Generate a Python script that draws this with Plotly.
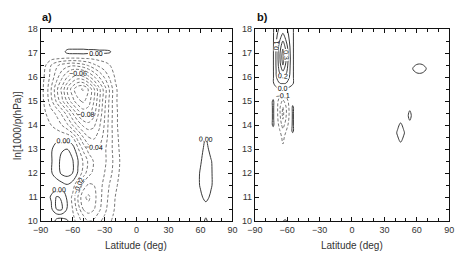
import numpy as np
import plotly.graph_objects as go

# ---------------- Panel a (values in units of 0.001) ----------------
UNIT_A = 0.001
a_main_lat = [-90, -85, -80, -75, -70, -65, -60, -55, -50, -45, -40, -35, -30, -25, -20, -15, -10]
a_main_lev = [10.0, 10.25, 10.5, 11.0, 11.5, 12.0, 12.5, 13.0, 13.5, 14.0, 14.5, 15.0, 15.5, 16.0, 16.5, 16.8, 17.05, 17.3]
a_main_val = [
    [-5, -5, -4, 2, 3, 1, -6, -14, -24, -30, -28, -22, -16, -11, -7, -5, -5],
    [-5, -5, -4, -3, -3, -3, -8, -18, -30, -37, -34, -27, -20, -13, -8, -5, -5],
    [-5, -5, -2, 10, 11, -1, -10, -24, -40, -46, -41, -32, -23, -15, -9, -6, -5],
    [-5, -4, 1, 11, 9, -2, -12, -30, -48, -52, -44, -34, -25, -17, -10, -6, -5],
    [-5, -5, -4, -6, -4, -1, -5, -18, -34, -42, -40, -34, -27, -19, -12, -7, -5],
    [-5, -4, -1, 5, 12, 14, 10, -1, -14, -26, -33, -34, -30, -23, -15, -8, -5],
    [-5, -4, -1, 6, 13, 15, 11, 1, -11, -22, -31, -35, -32, -25, -16, -9, -5],
    [-5, -4, -1, 4, 9, 10, 6, -8, -22, -34, -40, -38, -32, -24, -15, -8, -5],
    [-5, -5, -4, -3, -3, -4, -10, -25, -40, -50, -52, -46, -36, -25, -14, -7, -5],
    [-5, -7, -10, -14, -20, -28, -40, -52, -62, -66, -62, -52, -39, -25, -13, -6, -5],
    [-5, -10, -16, -22, -32, -45, -60, -74, -84, -84, -74, -58, -41, -26, -13, -6, -5],
    [-6, -13, -27, -42, -57, -72, -86, -97, -102, -95, -80, -62, -43, -27, -12, -6, -5],
    [-6, -14, -30, -47, -63, -80, -96, -108, -111, -99, -82, -63, -45, -28, -12, -6, -5],
    [-6, -12, -24, -36, -48, -60, -70, -75, -72, -63, -52, -40, -29, -18, -9, -5, -5],
    [-5, -10, -20, -28, -33, -36, -38, -36, -33, -28, -22, -17, -13, -10, -6, -5, -5],
    [-5, -5, -6, -7, -8, -9, -9, -9, -8, -8, -7, -6, -6, -6, -5, -5, -5],
    [-5, -5, -5, -5, -5, 3, 4, 4, 4, 3, 3, 2, 2, 1, -5, -5, -5],
    [-5, -5, -5, -5, -5, -5, -5, -5, -5, -5, -5, -5, -5, -5, -5, -5, -5],
]
a_east_lat = [55, 60, 65, 70, 75]
a_east_lev = [10.0, 10.5, 11.0, 11.5, 12.0, 12.5, 13.0, 13.5, 14.0]
a_east_val = [
    [-5, -5, 2, -5, -5],
    [-5, -5, -5, -5, -5],
    [-5, -2, 3, -2, -5],
    [-5, 1, 6, 1, -5],
    [-5, 1, 6, 1, -5],
    [-5, -1, 5, 0.5, -5],
    [-5, -3, 3, -3, -5],
    [-5, -5, 0.5, -5, -5],
    [-5, -5, -5, -5, -5],
]

# ---------------- Panel b (values in units of 0.01) ----------------
UNIT_B = 0.01
b_west_lat = [-76, -73, -70, -67, -64, -61, -58, -55, -52]
b_west_lev = [13.0, 13.25, 13.5, 13.75, 14.0, 14.25, 14.5, 14.75, 15.0, 15.25, 15.5,
              15.75, 16.0, 16.25, 16.5, 16.75, 17.0, 17.25, 17.5, 17.75, 18.0]
b_west_val = [
    [-3, -3, -3, -3, -4, -3, -3, -3, -3],
    [-3, -3, -3, -3, -11, -3, -3, -3, -3],
    [-3, -3, -3, -5, -13, -6, -3, -3, -3],
    [-3, -3, -3, -9, -17, -10, -4, 1, -3],
    [-3, 1, -4, -13, -24, -15, -6, 1, -3],
    [-3, 1, -5, -16, -30, -19, -8, 1, -3],
    [-3, 1, -5, -18, -33, -21, -9, 1, -3],
    [-3, 1, -5, -18, -30, -20, -8, 1, -3],
    [-3, 1, -5, -15, -22, -16, -6, -3, -3],
    [-3, -3, -4, -8, -12, -8, -4, -3, -3],
    [-3, -3, -3, -2, -1, -2, -3, -3, -3],
    [-3, -1, 6, 10, 11, 10, 6, 1, -3],
    [-3, -1, 10, 16, 20, 17, 10, 1, -3],
    [-3, -1, 11, 22, 30, 23, 12, 1, -3],
    [-3, -1, 12, 26, 40, 27, 13, 1, -3],
    [-3, -1, 12, 28, 45, 30, 14, 1, -3],
    [-3, -1, 12, 28, 44, 30, 13, 1, -3],
    [-3, -1, 11, 25, 38, 26, 12, 1, -3],
    [-3, -1, 10, 20, 30, 20, 10, 1, -3],
    [-3, -1, 8, 16, 22, 16, 8, 1, -3],
    [-3, -1, 6, 12, 15, 12, 6, 1, -3],
]
b_foot_lat = [-68, -62, -56]
b_foot_lev = [10.0, 10.3]
b_foot_val = [[-3, 1, -3], [-3, -3, -3]]

b_e1_lat = [50, 55, 60, 65, 70, 75]
b_e1_lev = [15.75, 16.0, 16.35, 16.7, 17.0]
b_e1_val = [
    [-3, -3, -3, -3, -3, -3],
    [-3, -3, -3, -3, -3, -3],
    [-3, -1, 3, 3, -1, -3],
    [-3, -3, -3, -3, -3, -3],
    [-3, -3, -3, -3, -3, -3],
]
b_e2_lat = [50, 53.5, 57]
b_e2_lev = [13.9, 14.4, 14.9]
b_e2_val = [[-3, -3, -3], [-3, 2, -3], [-3, -3, -3]]

b_e3_lat = [38, 42, 45, 48, 52]
b_e3_lev = [13.0, 13.68, 14.4]
b_e3_val = [[-3, -3, -3, -3, -3], [-3, 0.5, 4, 0.5, -3], [-3, -3, -3, -3, -3]]

lat_ticks = [-90, -60, -30, 0, 30, 60, 90]
lev_ticks = [10, 11, 12, 13, 14, 15, 16, 17, 18]

# contour level sets: (start, end, step, labelled?)
levels_a_neg = [(-0.12, -0.02, 0.02, True), (-0.11, -0.01, 0.02, False)]
levels_a_pos = [(0.0, 0.02, 0.02, True), (0.01, 0.03, 0.02, False)]
levels_b_neg = [(-0.5, -0.1, 0.1, True)]
levels_b_pos = [(0.0, 0.6, 0.1, True)]

FONT = "Liberation Sans, Arial, sans-serif"
SOLID = "#3a3a3a"
DASHED = "#777777"
LABEL = "#000000"

fig = go.Figure()


def add_levels(lat, lev, z, xa, ya, sets, col, dash, fmt):
    for s, e, st, lab in sets:
        fig.add_trace(go.Contour(
            x=lat, y=lev, z=z, xaxis=xa, yaxis=ya, autocontour=False,
            contours=dict(start=s, end=e, size=st, coloring="lines",
                          showlabels=lab, labelformat=fmt,
                          labelfont=dict(size=7, color=LABEL, family=FONT,
                                         shadow="0px 0px 1px white")),
            colorscale=[[0, col], [1, col]],
            line=dict(width=1, dash=dash, smoothing=1.0),
            showscale=False, hoverinfo="skip"))


def add_patch(lat, lev, val, unit, xa, ya, neg, pos, fmt):
    z = np.array(val, dtype=float) * unit
    if neg is not None:
        add_levels(lat, lev, z, xa, ya, neg, DASHED, "3px,2px", fmt)
    add_levels(lat, lev, z, xa, ya, pos, SOLID, "solid", fmt)


add_patch(a_main_lat, a_main_lev, a_main_val, UNIT_A, "x", "y", levels_a_neg, levels_a_pos, ".2f")
add_patch(a_east_lat, a_east_lev, a_east_val, UNIT_A, "x", "y", levels_a_neg, levels_a_pos, ".2f")
add_patch(b_west_lat, b_west_lev, b_west_val, UNIT_B, "x2", "y2", levels_b_neg, levels_b_pos, ".1f")
add_patch(b_foot_lat, b_foot_lev, b_foot_val, UNIT_B, "x2", "y2", None, levels_b_pos, ".1f")
add_patch(b_e1_lat, b_e1_lev, b_e1_val, UNIT_B, "x2", "y2", None, levels_b_pos, ".1f")
add_patch(b_e2_lat, b_e2_lev, b_e2_val, UNIT_B, "x2", "y2", None, levels_b_pos, ".1f")
add_patch(b_e3_lat, b_e3_lev, b_e3_val, UNIT_B, "x2", "y2", None, levels_b_pos, ".1f")

W, H = 460, 257
ydom = [1 - 225 / H, 1 - 25 / H]


def xax(dom, anchor):
    return dict(domain=dom, anchor=anchor, range=[-90, 90], tickvals=lat_ticks,
                ticks="inside", ticklen=4, tickcolor="#111", showline=True,
                linecolor="#111", linewidth=1, mirror="allticks", showgrid=False,
                zeroline=False, tickfont=dict(size=9, color="#333", family=FONT),
                minor=dict(dtick=10, tick0=-90, ticks="inside", ticklen=3,
                           tickcolor="#111", showgrid=False))


def yax(anchor):
    return dict(domain=ydom, anchor=anchor, range=[10, 18], tickvals=lev_ticks,
                ticks="inside", ticklen=4, tickcolor="#111", showline=True,
                linecolor="#111", linewidth=1, mirror="allticks", showgrid=False,
                zeroline=False, tickfont=dict(size=9, color="#333", family=FONT),
                minor=dict(dtick=0.5, tick0=10, ticks="inside", ticklen=3,
                           tickcolor="#111", showgrid=False))


fig.update_layout(
    width=W, height=H, margin=dict(l=0, r=0, t=0, b=0),
    paper_bgcolor="white", plot_bgcolor="white", showlegend=False,
    xaxis=xax([33.5 / W, 231 / W], "y"), yaxis=yax("x"),
    xaxis2=xax([254 / W, 454 / W], "y2"), yaxis2=yax("x2"),
    annotations=[
        dict(text="<b>a)</b>", x=33 / W, y=1 - 12 / H, xref="paper", yref="paper",
             xanchor="left", yanchor="middle", showarrow=False,
             font=dict(size=11, color="#111", family=FONT)),
        dict(text="<b>b)</b>", x=254 / W, y=1 - 12 / H, xref="paper", yref="paper",
             xanchor="left", yanchor="middle", showarrow=False,
             font=dict(size=11, color="#111", family=FONT)),
        dict(text="Latitude (deg)", x=132 / W, y=1 - 250 / H, xref="paper", yref="paper",
             xanchor="center", yanchor="middle", showarrow=False,
             font=dict(size=10, color="#333", family=FONT)),
        dict(text="Latitude (deg)", x=354 / W, y=1 - 250 / H, xref="paper", yref="paper",
             xanchor="center", yanchor="middle", showarrow=False,
             font=dict(size=10, color="#333", family=FONT)),
        dict(text="ln[1000/p(hPa)]", x=9 / W, y=1 - 125 / H, xref="paper", yref="paper",
             xanchor="center", yanchor="middle", showarrow=False, textangle=-90,
             font=dict(size=10, color="#333", family=FONT)),
    ],
)

fig.write_html("out.html")
